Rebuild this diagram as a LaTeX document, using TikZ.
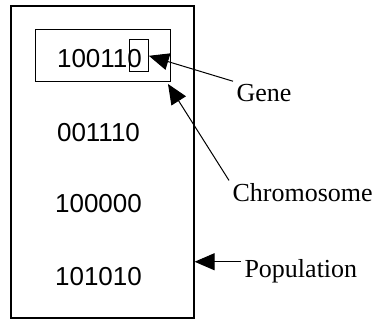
\documentclass[tikz,border=0pt]{standalone}
\usepackage{fontspec}
\setmainfont{Liberation Serif}
\setsansfont{Liberation Sans}
\usetikzlibrary{arrows.meta}

\begin{document}
\begin{tikzpicture}[x=1pt,y=-1pt,
    every node/.style={align=center},
    bits/.style={font=\sffamily\fontsize{26}{30}\selectfont},
    tag/.style={font=\fontsize{26}{30}\selectfont, anchor=base west},
    pointer/.style={-{Triangle[length=20pt,width=17pt]}, line width=1pt}]

    \useasboundingbox (0,0) rectangle (380,320);

    % Population (grosse Box)
    \node[draw, line width=1.2pt, inner sep=0pt, minimum width=183pt, minimum height=312pt] (pop) at (102.5,162) {};

    % Chromosomen
    \node[bits] (c1) at (99.5,58.5) {100110};
    \node[bits] (c2) at (98.5,132.5) {001110};
    \node[bits] (c3) at (98.5,204) {100000};
    \node[bits] (c4) at (98.5,276.5) {101010};

    % Box um Chromosom und Gen
    \node[draw, line width=1pt, inner sep=0pt, minimum width=135.5pt, minimum height=51.5pt] (chrom) at (102.75,55.75) {};
    \node[draw, line width=1pt, inner sep=0pt, minimum width=19.3pt, minimum height=31.7pt] (gene) at (138.7,55.8) {};

    % Beschriftungen
    \node[tag] (gene-l) at (233,102) {Gene};
    \node[tag] (chrom-l) at (229,202) {Chromosome};
    \node[tag] (pop-l) at (241,277) {Population};

    % Pfeile
    \draw[pointer] (gene-l.north west) -- (gene.east);
    \draw[pointer] (chrom-l.north west) -- ([shift={(-3,2)}]chrom.south east);
    \draw[pointer] ([yshift=9pt]pop-l.west) -- ([yshift=9pt]pop-l.west -| pop.east);

\end{tikzpicture}
\end{document}
